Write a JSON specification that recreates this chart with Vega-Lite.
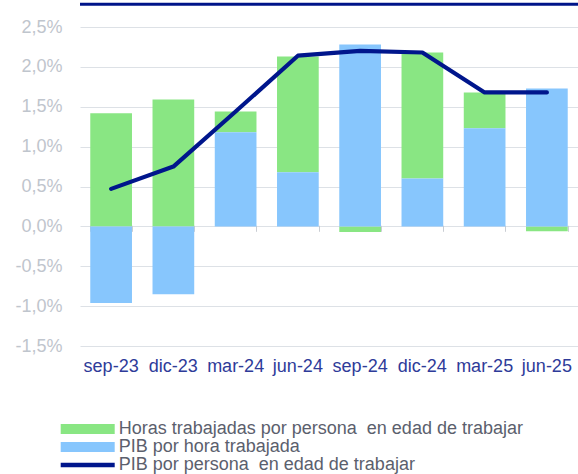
{
  "$schema": "https://vega.github.io/schema/vega-lite/v6.json",
  "width": 498,
  "height": 319,
  "autosize": {"type": "none"},
  "padding": {"left": 80, "top": 27, "right": 0, "bottom": 128},
  "background": "white",
  "config": {
    "font": "Liberation Sans",
    "view": {"stroke": null},
    "locale": {"number": {"decimal": ",", "thousands": ".", "grouping": [3], "currency": ["", " €"], "minus": "-"}}
  },
  "datasets": {
    "barras": [
      {"periodo": "sep-23", "serie": "Horas trabajadas por persona  en edad de trabajar", "valor": 1.42},
      {"periodo": "sep-23", "serie": "PIB por hora trabajada", "valor": -0.96},
      {"periodo": "dic-23", "serie": "Horas trabajadas por persona  en edad de trabajar", "valor": 1.59},
      {"periodo": "dic-23", "serie": "PIB por hora trabajada", "valor": -0.85},
      {"periodo": "mar-24", "serie": "Horas trabajadas por persona  en edad de trabajar", "valor": 0.26},
      {"periodo": "mar-24", "serie": "PIB por hora trabajada", "valor": 1.18},
      {"periodo": "jun-24", "serie": "Horas trabajadas por persona  en edad de trabajar", "valor": 1.45},
      {"periodo": "jun-24", "serie": "PIB por hora trabajada", "valor": 0.68},
      {"periodo": "sep-24", "serie": "Horas trabajadas por persona  en edad de trabajar", "valor": -0.07},
      {"periodo": "sep-24", "serie": "PIB por hora trabajada", "valor": 2.28},
      {"periodo": "dic-24", "serie": "Horas trabajadas por persona  en edad de trabajar", "valor": 1.58},
      {"periodo": "dic-24", "serie": "PIB por hora trabajada", "valor": 0.60},
      {"periodo": "mar-25", "serie": "Horas trabajadas por persona  en edad de trabajar", "valor": 0.45},
      {"periodo": "mar-25", "serie": "PIB por hora trabajada", "valor": 1.23},
      {"periodo": "jun-25", "serie": "Horas trabajadas por persona  en edad de trabajar", "valor": -0.06},
      {"periodo": "jun-25", "serie": "PIB por hora trabajada", "valor": 1.73}
    ],
    "linea": [
      {"periodo": "sep-23", "valor": 0.47},
      {"periodo": "dic-23", "valor": 0.75},
      {"periodo": "mar-24", "valor": 1.44},
      {"periodo": "jun-24", "valor": 2.14},
      {"periodo": "sep-24", "valor": 2.20},
      {"periodo": "dic-24", "valor": 2.18},
      {"periodo": "mar-25", "valor": 1.68},
      {"periodo": "jun-25", "valor": 1.68}
    ],
    "borde": [{}]
  },
  "layer": [
    {
      "data": {"name": "barras"},
      "mark": {"type": "bar"},
      "encoding": {
        "x": {
          "field": "periodo", "type": "nominal",
          "sort": ["sep-23", "dic-23", "mar-24", "jun-24", "sep-24", "dic-24", "mar-25", "jun-25"],
          "scale": {"paddingInner": 0.33, "paddingOuter": 0.165},
          "axis": {"orient": "bottom", "offset": -120.7, "labels": false, "domain": false, "ticks": true, "tickBand": "extent", "tickSize": 6, "tickColor": "#C9CDD3", "grid": false, "title": null}
        },
        "y": {
          "field": "valor", "type": "quantitative", "stack": "zero",
          "scale": {"domain": [-1.5, 2.5], "nice": false, "zero": false},
          "axis": {"tickCount": 8, "format": ".1f", "labelExpr": "datum.label + '%'", "labelOverlap": false, "labelFlush": false, "grid": true, "gridColor": "#DDE1E6", "gridWidth": 1, "domain": false, "ticks": false, "labelPadding": 18, "labelFontSize": 18, "labelColor": "#BFC5CD", "title": null}
        },
        "color": {
          "field": "serie", "type": "nominal",
          "scale": {"domain": ["Horas trabajadas por persona  en edad de trabajar", "PIB por hora trabajada", "PIB por persona  en edad de trabajar"], "range": ["#89E683", "#87C6FD", "#00168C"]},
          "legend": {
            "orient": "none", "legendX": -1.3, "legendY": 393, "title": null, "direction": "vertical",
            "symbolType": "M-3,-0.56H3V0.56H-3Z", "symbolSize": 324, "symbolStrokeWidth": 0,
            "labelFontSize": 18, "labelColor": "#5B606D", "labelLimit": 600, "rowPadding": 0, "labelOffset": 22, "padding": 0,
            "labelExpr": "replace(datum.label, '  ', '\u00a0 ')",
            "encode": {"symbols": {"update": {
              "shape": {"signal": "datum.value === 'PIB por persona  en edad de trabajar' ? 'M-3,-0.24H3V0.24H-3Z' : 'M-3,-0.56H3V0.56H-3Z'"},
              "fill": {"signal": "scale('color', datum.value)"},
              "strokeWidth": {"value": 0}
            }}}
          }
        },
        "order": {"field": "serie", "sort": "descending"}
      }
    },
    {
      "data": {"name": "linea"},
      "mark": {"type": "line", "strokeWidth": 4.2, "strokeCap": "round", "strokeJoin": "round"},
      "encoding": {
        "x": {
          "field": "periodo", "type": "nominal",
          "sort": ["sep-23", "dic-23", "mar-24", "jun-24", "sep-24", "dic-24", "mar-25", "jun-25"],
          "axis": {"orient": "bottom", "domain": false, "ticks": false, "grid": false, "labelFontSize": 18, "labelColor": "#2E3B99", "labelPadding": 11, "labelAngle": 0, "title": null}
        },
        "y": {"field": "valor", "type": "quantitative"},
        "color": {"datum": "PIB por persona  en edad de trabajar"}
      }
    },
    {
      "data": {"name": "borde"},
      "mark": {"type": "rule", "clip": false, "color": "#001489", "strokeWidth": 3},
      "encoding": {
        "y": {"datum": 2.785, "type": "quantitative"}
      }
    }
  ],
  "resolve": {"axis": {"x": "independent"}}
}
